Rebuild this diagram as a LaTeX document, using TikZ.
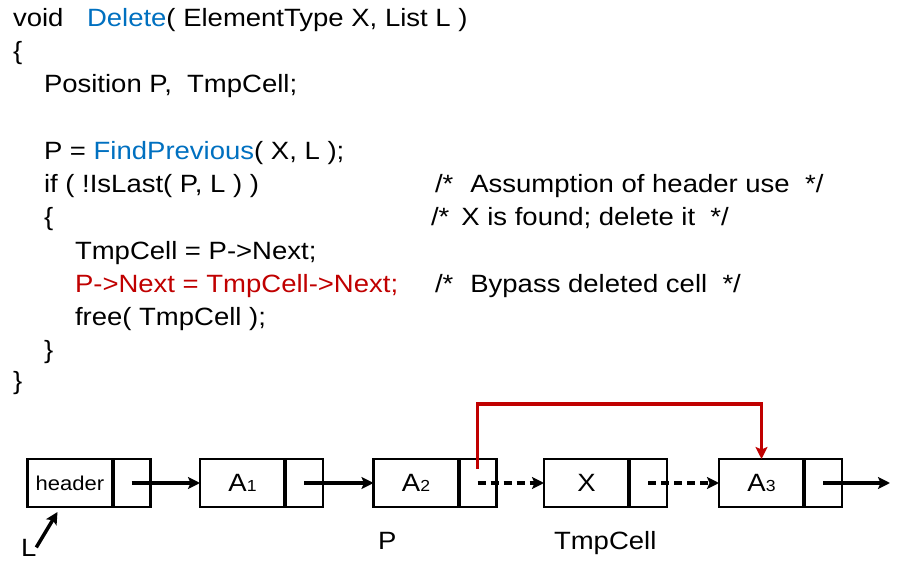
\documentclass[tikz,border=0pt]{standalone}
\usepackage{fontspec}
\setmainfont{Liberation Sans}[FakeStretch=1.1]
\usetikzlibrary{arrows.meta,positioning}
\definecolor{fnblue}{RGB}{0,112,192}
\definecolor{hlred}{RGB}{192,0,0}
\newcommand{\cellsub}[1]{{\fontsize{16}{16}\selectfont #1}}

\begin{document}
\begin{tikzpicture}[x=1pt,y=-1pt]
                \tikzstyle{every node}+=[inner sep=0pt, outer sep=0pt]
                \tikzstyle{code}=[anchor=base west, font=\fontsize{25}{30}\selectfont]
                \tikzstyle{datacell}=[draw, line width=2.4pt, minimum width=85pt, minimum height=48pt, font=\fontsize{25}{30}\selectfont]
                \tikzstyle{ptrcell}=[draw, line width=2.4pt, minimum width=38pt, minimum height=48pt]
                \tikzstyle{link}=[line width=3.5pt, -{Stealth[length=12pt,width=12pt,inset=2.5pt]}]
                \tikzstyle{dlink}=[link, dash pattern=on 8pt off 5pt]
                \tikzstyle{bypass}=[link, hlred]
                \useasboundingbox (0,0) rectangle (898,569);
                \node [code] (void) at (13,27) {void};
                \node [code] (head) at (87,27) {\textcolor{fnblue}{Delete}( ElementType X, List L )};
                \node [code] (open) at (13,60) {\{};
                \node [code] (decl) at (44,93) {Position P,\ \ TmpCell;};
                \node [code] (find) at (44,160) {P = \textcolor{fnblue}{FindPrevious}( X, L );};
                \node [code] (test) at (44,193) {if ( !IsLast( P, L ) )};
                \node [code] (cmta) at (435,193) {/*\hspace{17pt}Assumption of header use\ \ */};
                \node [code] (ifopen) at (44,226) {\{};
                \node [code] (cmtb) at (431,226) {/*\hspace{12pt}X is found; delete it\ \ */};
                \node [code] (tmp) at (75,260) {TmpCell = P->Next;};
                \node [code, text=hlred] (byp) at (75,293) {P->Next = TmpCell->Next;};
                \node [code] (cmtc) at (435,293) {/*\hspace{17pt}Bypass deleted cell\ \ */};
                \node [code] (free) at (75,326) {free( TmpCell );};
                \node [code] (ifclose) at (44,359) {\}};
                \node [code] (close) at (13,390) {\}};
                \node [datacell, font=\fontsize{20}{24}\selectfont] (hd) at (70,483) {header};
                \node [ptrcell, right=0pt of hd] (hdp) {};
                \node [datacell] (a1) at (242.5,483) {A\cellsub{1}};
                \node [ptrcell, right=0pt of a1] (a1p) {};
                \node [datacell] (a2) at (416,483) {A\cellsub{2}};
                \node [ptrcell, right=0pt of a2] (a2p) {};
                \node [datacell] (x) at (586.5,483) {X};
                \node [ptrcell, right=0pt of x] (xp) {};
                \node [datacell] (a3) at (761.5,483) {A\cellsub{3}};
                \node [ptrcell, right=0pt of a3] (a3p) {};
                \foreach \c in {hdp,a1p,a2p,xp,a3p}
                    \draw [line width=4pt] (\c.north west) -- (\c.south west);
                \draw [link] (hdp.center) -- (a1);
                \draw [link] (a1p.center) -- (a2);
                \draw [dlink] (a2p.center) -- (x);
                \draw [dlink] (xp.center) -- (a3);
                \coordinate (tail) at (890,483);
                \draw [link] (a3p.center) -- (tail);
                \draw [bypass] ([yshift=14pt]a2p.center) |- ([yshift=55pt]a3.north) -- (a3.north);
                \node [code] (lname) at (21,556) {L};
                \coordinate (ltip) at ([xshift=30pt,yshift=-5pt]hd.south west);
                \draw [link] (lname.east) -- (ltip);
                \node [code] (pname) at (378,549) {P};
                \node [code] (tname) at (554,550) {TmpCell};
\end{tikzpicture}
\end{document}
